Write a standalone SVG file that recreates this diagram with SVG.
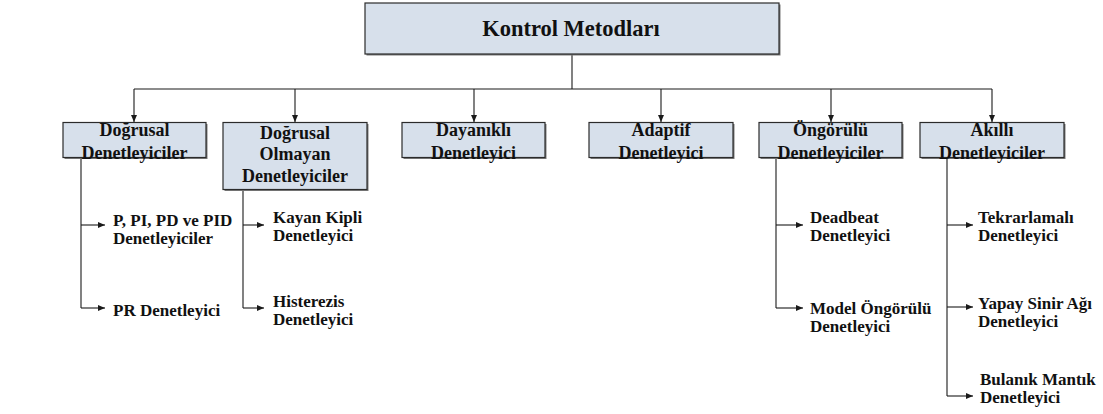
<svg xmlns="http://www.w3.org/2000/svg" width="1103" height="414" viewBox="0 0 1103 414">
  <defs>
    <marker id="arrow" markerUnits="userSpaceOnUse" markerWidth="8" markerHeight="8" refX="7" refY="4" orient="auto">
      <path d="M0,1 L7,4 L0,7 Z" fill="#1a1a1a"/>
    </marker>
  </defs>
  <style>
    .box { fill: #d7e0eb; stroke: #2b2b2b; stroke-width: 1.2; }
    .shadow { fill: #7a7a7a; }
    .line { fill: none; stroke: #1a1a1a; stroke-width: 1.1; }
    .head { font-family: "Liberation Serif", "Times New Roman", serif; font-weight: bold; font-size: 22.5px; fill: #111; text-anchor: middle; }
    .cat { font-family: "Liberation Serif", "Times New Roman", serif; font-weight: bold; font-size: 18px; fill: #111; text-anchor: middle; }
    .leaf { font-family: "Liberation Serif", "Times New Roman", serif; font-weight: bold; font-size: 17px; fill: #111; }
  </style>

  <rect width="1103" height="414" fill="#ffffff"/>

  <!-- connectors -->
  <g id="connectors">
    <path class="line" d="M572,54 V89"/>
    <path class="line" d="M134,89 H992"/>
    <path class="line" d="M134,89 V122" marker-end="url(#arrow)"/>
    <path class="line" d="M295,89 V122" marker-end="url(#arrow)"/>
    <path class="line" d="M474,89 V122" marker-end="url(#arrow)"/>
    <path class="line" d="M661,89 V122" marker-end="url(#arrow)"/>
    <path class="line" d="M831,89 V122" marker-end="url(#arrow)"/>
    <path class="line" d="M992,89 V122" marker-end="url(#arrow)"/>

    <!-- Doğrusal branch -->
    <path class="line" d="M81,157 V308"/>
    <path class="line" d="M81,225 H105" marker-end="url(#arrow)"/>
    <path class="line" d="M81,308 H105" marker-end="url(#arrow)"/>

    <!-- Doğrusal Olmayan branch -->
    <path class="line" d="M243,189 V308"/>
    <path class="line" d="M243,225 H264" marker-end="url(#arrow)"/>
    <path class="line" d="M243,308 H264" marker-end="url(#arrow)"/>

    <!-- Öngörülü branch -->
    <path class="line" d="M776,157 V308"/>
    <path class="line" d="M776,225 H803" marker-end="url(#arrow)"/>
    <path class="line" d="M776,308 H803" marker-end="url(#arrow)"/>

    <!-- Akıllı branch -->
    <path class="line" d="M947,157 V396"/>
    <path class="line" d="M947,225 H973" marker-end="url(#arrow)"/>
    <path class="line" d="M947,307 H973" marker-end="url(#arrow)"/>
    <path class="line" d="M947,396 H973" marker-end="url(#arrow)"/>
  </g>

  <!-- root -->
  <g id="kontrol-metodlari">
    <rect class="shadow" x="366.5" y="4.5" width="414" height="51"/>
    <rect class="box" x="365" y="3" width="414" height="51"/>
    <text class="head" x="571" y="36">Kontrol Metodları</text>
  </g>

  <!-- categories -->
  <g id="dogrusal">
    <rect class="shadow" x="64.5" y="124" width="143" height="35"/>
    <rect class="box" x="63" y="122.5" width="143" height="35"/>
    <text class="cat" x="134.5" y="136">Doğrusal</text>
    <text class="cat" x="134.5" y="158.5">Denetleyiciler</text>
  </g>
  <g id="dogrusal-olmayan">
    <rect class="shadow" x="224.5" y="124" width="144" height="67"/>
    <rect class="box" x="223" y="122.5" width="144" height="67"/>
    <text class="cat" x="295" y="138.5">Doğrusal</text>
    <text class="cat" x="295" y="160">Olmayan</text>
    <text class="cat" x="295" y="181.5">Denetleyiciler</text>
  </g>
  <g id="dayanikli">
    <rect class="shadow" x="403.5" y="124" width="143" height="35"/>
    <rect class="box" x="402" y="122.5" width="143" height="35"/>
    <text class="cat" x="473.5" y="136">Dayanıklı</text>
    <text class="cat" x="473.5" y="158.5">Denetleyici</text>
  </g>
  <g id="adaptif">
    <rect class="shadow" x="590.5" y="124" width="144" height="35"/>
    <rect class="box" x="589" y="122.5" width="144" height="35"/>
    <text class="cat" x="661" y="136">Adaptif</text>
    <text class="cat" x="661" y="158.5">Denetleyici</text>
  </g>
  <g id="ongorulu">
    <rect class="shadow" x="760.5" y="124" width="143" height="35"/>
    <rect class="box" x="759" y="122.5" width="143" height="35"/>
    <text class="cat" x="830.5" y="136">Öngörülü</text>
    <text class="cat" x="830.5" y="158.5">Denetleyiciler</text>
  </g>
  <g id="akilli">
    <rect class="shadow" x="921.5" y="124" width="144" height="35"/>
    <rect class="box" x="920" y="122.5" width="144" height="35"/>
    <text class="cat" x="992" y="136">Akıllı</text>
    <text class="cat" x="992" y="158.5">Denetleyiciler</text>
  </g>

  <!-- leaves -->
  <g id="pid">
    <text class="leaf" x="113" y="226">P, PI, PD ve PID</text>
    <text class="leaf" x="113" y="244">Denetleyiciler</text>
  </g>
  <g id="pr">
    <text class="leaf" x="113" y="316">PR Denetleyici</text>
  </g>
  <g id="kayan-kipli">
    <text class="leaf" x="273" y="223">Kayan Kipli</text>
    <text class="leaf" x="273" y="241">Denetleyici</text>
  </g>
  <g id="histerezis">
    <text class="leaf" x="273" y="307">Histerezis</text>
    <text class="leaf" x="273" y="325">Denetleyici</text>
  </g>
  <g id="deadbeat">
    <text class="leaf" x="810" y="223">Deadbeat</text>
    <text class="leaf" x="810" y="241">Denetleyici</text>
  </g>
  <g id="model-ongorulu">
    <text class="leaf" x="810" y="314">Model Öngörülü</text>
    <text class="leaf" x="810" y="332">Denetleyici</text>
  </g>
  <g id="tekrarlamali">
    <text class="leaf" x="978" y="223">Tekrarlamalı</text>
    <text class="leaf" x="978" y="241">Denetleyici</text>
  </g>
  <g id="yapay-sinir-agi">
    <text class="leaf" x="978" y="309">Yapay Sinir Ağı</text>
    <text class="leaf" x="978" y="327">Denetleyici</text>
  </g>
  <g id="bulanik-mantik">
    <text class="leaf" x="980" y="385">Bulanık Mantık</text>
    <text class="leaf" x="980" y="403">Denetleyici</text>
  </g>
</svg>
